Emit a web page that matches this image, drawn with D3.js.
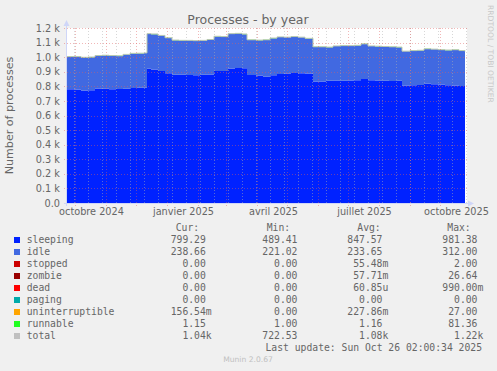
<!DOCTYPE html>
<html>
<head>
<meta charset="utf-8">
<script src="https://cdn.jsdelivr.net/npm/d3@7"></script>
<style>
  body { margin: 0; background: #f0f0f0; }
  svg { display: block; }
  text { font-family: "DejaVu Sans", sans-serif; fill: #666; }
  .mono { font-family: "DejaVu Sans Mono", monospace; font-size: 9.72px; }
</style>
</head>
<body>
<div id="chart"></div>
<script>
const dates = ["2024-09-23","2024-09-30","2024-10-07","2024-10-14","2024-10-21","2024-10-28",
  "2024-11-04","2024-11-11","2024-11-18","2024-11-25","2024-12-02","2024-12-09","2024-12-12",
  "2024-12-16","2024-12-23","2024-12-30","2025-01-06","2025-01-13","2025-01-20","2025-01-27",
  "2025-02-03","2025-02-10","2025-02-17","2025-02-24","2025-03-03","2025-03-10","2025-03-17",
  "2025-03-22","2025-03-31","2025-04-07","2025-04-14","2025-04-21","2025-04-28","2025-05-05",
  "2025-05-12","2025-05-19","2025-05-27","2025-06-02","2025-06-09","2025-06-16","2025-06-23",
  "2025-06-30","2025-07-07","2025-07-14","2025-07-21","2025-07-28","2025-08-04","2025-08-11",
  "2025-08-18","2025-08-24","2025-09-01","2025-09-08","2025-09-15","2025-09-22","2025-09-29",
  "2025-10-06","2025-10-13","2025-10-20","2025-10-26"];

const sleeping = [780,778,772,774,786,784,780,782,784,788,790,790,
  920,916,905,890,880,880,878,876,880,882,905,906,922,926,924,
  878,874,866,876,884,888,892,890,888,
  834,834,838,840,838,840,842,850,842,840,838,836,838,
  806,808,810,818,814,812,808,806,802,799];

const idle = [223,225,226,226,224,228,230,226,234,237,236,238,
  240,242,243,242,236,234,236,236,234,238,237,234,238,236,234,
  240,242,252,254,254,248,248,246,240,
  236,236,230,236,240,238,238,240,234,234,234,234,230,
  234,236,236,238,240,238,240,244,242,239];

const runnable = [1.2,1.1,1.2,1.1,1.2,1.2,1.1,1.2,1.1,1.2,1.2,1.1,
  1.3,1.2,1.2,1.1,1.1,1.2,1.1,1.2,1.1,1.2,1.2,1.1,1.2,1.2,1.1,
  1.2,1.1,1.2,1.2,1.1,1.2,1.3,1.2,1.1,
  1.1,1.2,1.1,1.1,1.2,1.1,1.2,1.2,1.1,1.1,1.2,1.1,1.1,
  1.2,1.1,1.1,1.2,1.1,1.2,1.1,1.1,1.2,1.15];

const yTicks = [0,100,200,300,400,500,600,700,800,900,1000,1100,1200];
const yTickLabels = ["0.0","0.1 k","0.2 k","0.3 k","0.4 k","0.5 k","0.6 k","0.7 k","0.8 k","0.9 k","1.0 k","1.1 k","1.2 k"];
const xLabelMonths = ["2024-10-01","2025-01-01","2025-04-01","2025-07-01","2025-10-01"];
const xLabels = ["octobre 2024","janvier 2025","avril 2025","juillet 2025","octobre 2025"];

const names  = ["sleeping","idle","stopped","zombie","dead","paging","uninterruptible","runnable","total"];
const colors = ["#0022ff","#4169e1","#cc0000","#990000","#ff0000","#00aaaa","#ffa500","#22ff22","#c0c0c0"];
const curVals = ["799.29 ","238.66 ","0.00 ","0.00 ","0.00 ","0.00 ","156.54m","1.15 ","1.04k"];
const minVals = ["489.41 ","221.02 ","0.00 ","0.00 ","0.00 ","0.00 ","0.00 ","1.00 ","722.53 "];
const avgVals = ["847.57 ","233.65 ","55.48m","57.71m","60.85u","0.00 ","227.86m","1.16 ","1.08k"];
const maxVals = ["981.38 ","312.00 ","2.00 ","26.64 ","990.00m","0.00 ","27.00 ","81.36 ","1.22k"];

const W = 497, H = 371;
const parse = d3.timeParse("%Y-%m-%d");

const svg = d3.select("#chart").append("svg")
  .attr("width", W).attr("height", H);

svg.append("rect").attr("width", W).attr("height", H).attr("fill", "#f0f0f0");

const x = d3.scaleTime()
  .domain([new Date(2024, 8, 23), new Date(2025, 9, 28)])
  .range([67, 467]);
const y = d3.scaleLinear().domain([0, 1200]).range([203, 28]);

// canvas
svg.append("rect")
  .attr("x", x.range()[0]).attr("y", y(1200))
  .attr("width", x.range()[1] - x.range()[0]).attr("height", y(0) - y(1200))
  .attr("fill", "#ffffff");

const rows = dates.map((d, i) => ({
  date: parse(d), sleeping: sleeping[i], idle: idle[i], runnable: runnable[i]
}));

const keys = ["sleeping", "idle", "runnable"];
const series = d3.stack().keys(keys)(rows);
const area = d3.area()
  .curve(d3.curveStepAfter)
  .x(d => x(d.data.date))
  .y0(d => y(d[0]))
  .y1(d => y(d[1]));

svg.append("g").selectAll("path")
  .data(series)
  .join("path")
  .attr("fill", d => colors[names.indexOf(d.key)])
  .attr("d", area);

// total as LINE1
const totalLine = d3.line()
  .curve(d3.curveStepAfter)
  .x(d => x(d.date))
  .y(d => y(d.sleeping + d.idle + d.runnable));
svg.append("path")
  .datum(rows)
  .attr("fill", "none")
  .attr("stroke", "#b8c8b0")
  .attr("stroke-width", 1)
  .attr("d", totalLine);

// grid
const grid = svg.append("g");
const [t0, t1] = x.domain();
const refMonday = new Date(2024, 9, 14);
const minorDays = d3.timeMonday.range(t0, t1)
  .filter(d => Math.abs(d3.timeMonday.count(refMonday, d)) % 2 === 0);
grid.selectAll("line.minor")
  .data(minorDays)
  .join("line")
  .attr("x1", d => Math.round(x(d)) + 0.5).attr("x2", d => Math.round(x(d)) + 0.5)
  .attr("y1", y(1200)).attr("y2", y(0) + 2)
  .attr("stroke", "#b0b0b0").attr("stroke-opacity", 0.5)
  .attr("stroke-dasharray", "1,2");

const months = d3.timeMonth.range(t0, t1);
grid.selectAll("line.major")
  .data(months)
  .join("line")
  .attr("x1", d => Math.round(x(d)) + 0.5).attr("x2", d => Math.round(x(d)) + 0.5)
  .attr("y1", y(1200)).attr("y2", y(0) + 3)
  .attr("stroke", "#e06060").attr("stroke-opacity", 0.45)
  .attr("stroke-dasharray", "1,2");

grid.selectAll("line.h")
  .data(yTicks)
  .join("line")
  .attr("x1", 64).attr("x2", 469)
  .attr("y1", d => Math.round(y(d)) + 0.5).attr("y2", d => Math.round(y(d)) + 0.5)
  .attr("stroke", "#e06060").attr("stroke-opacity", 0.45)
  .attr("stroke-dasharray", "1,2");

// axes lines and arrows
const axisColor = "#cfd6f8";
svg.append("line").attr("x1", 66.5).attr("x2", 66.5).attr("y1", y(0) + 3).attr("y2", 25)
  .attr("stroke", axisColor);
svg.append("line").attr("x1", 64).attr("x2", 469).attr("y1", 203.5).attr("y2", 203.5)
  .attr("stroke", axisColor);
svg.append("path").attr("d", "M63.5,26 L66.5,20 L69.5,26 Z").attr("fill", axisColor);
svg.append("path").attr("d", "M468,200.5 L474,203.5 L468,206.5 Z").attr("fill", axisColor);

// y tick labels
const yAxis = svg.append("g")
  .attr("transform", "translate(66.5,0)")
  .call(d3.axisLeft(y).tickValues(yTicks)
    .tickFormat((d, i) => yTickLabels[i]).tickSize(0).tickPadding(6.5));
yAxis.select(".domain").remove();
yAxis.attr("font-family", null).attr("font-size", null);
yAxis.selectAll("text").style("font-size", "9.72px").attr("fill", "#666");

// x labels
const xAxis = svg.append("g")
  .attr("transform", "translate(0,203.5)")
  .call(d3.axisBottom(x)
    .tickValues(xLabelMonths.map(m => d3.timeDay.offset(parse(m), 16)))
    .tickFormat((d, i) => xLabels[i]).tickSize(0).tickPadding(5));
xAxis.select(".domain").remove();
xAxis.attr("font-family", null).attr("font-size", null);
xAxis.selectAll("text").style("font-size", "9.72px").attr("fill", "#666");

// title and side texts
svg.append("text").attr("x", 248).attr("y", 23.5).attr("text-anchor", "middle")
  .style("font-size", "12.5px").text("Processes - by year");

svg.append("text")
  .attr("transform", "translate(13," + (y(600)) + ") rotate(-90)")
  .attr("text-anchor", "middle")
  .style("font-size", "11.1px")
  .text("Number of processes");

svg.append("text")
  .attr("transform", "translate(487.5,5) rotate(90)")
  .style("font-size", "7.6px").style("fill", "#c8c8c8")
  .text("RRDTOOL / TOBI OETIKER");

// legend
const legend = svg.append("g").attr("class", "mono");
const headers = [["Cur:", 175.7], ["Min:", 266.7], ["Avg:", 357.3], ["Max:", 447.3]];
legend.selectAll("text.hdr")
  .data(headers)
  .join("text")
  .attr("class", "mono")
  .attr("x", d => d[1]).attr("y", 231)
  .text(d => d[0]);

const rowY = i => 242.5 + 12 * i;
legend.selectAll("rect")
  .data(names)
  .join("rect")
  .attr("x", 14).attr("y", (d, i) => rowY(i) - 5.5)
  .attr("width", 6).attr("height", 6)
  .attr("fill", (d, i) => colors[i]);

legend.selectAll("text.name")
  .data(names)
  .join("text")
  .attr("class", "mono")
  .attr("x", 26.7).attr("y", (d, i) => rowY(i))
  .text(d => d);

const cols = [[curVals, 211.7], [minVals, 303.3], [avgVals, 388.3], [maxVals, 483.3]];
cols.forEach(([vals, xr]) => {
  legend.append("g").selectAll("text")
    .data(vals)
    .join("text")
    .attr("class", "mono")
    .attr("text-anchor", "end")
    .attr("x", xr).attr("y", (d, i) => rowY(i))
    .text(d => d.replace(/ $/, "\u00a0"));
});

legend.append("text")
  .attr("class", "mono")
  .attr("text-anchor", "end")
  .attr("x", 482).attr("y", rowY(9))
  .text("Last update: Sun Oct 26 02:00:34 2025");

svg.append("text").attr("x", 248).attr("y", 362).attr("text-anchor", "middle")
  .style("font-size", "7.6px").style("fill", "#c0c0c0")
  .text("Munin 2.0.67");
</script>
</body>
</html>
